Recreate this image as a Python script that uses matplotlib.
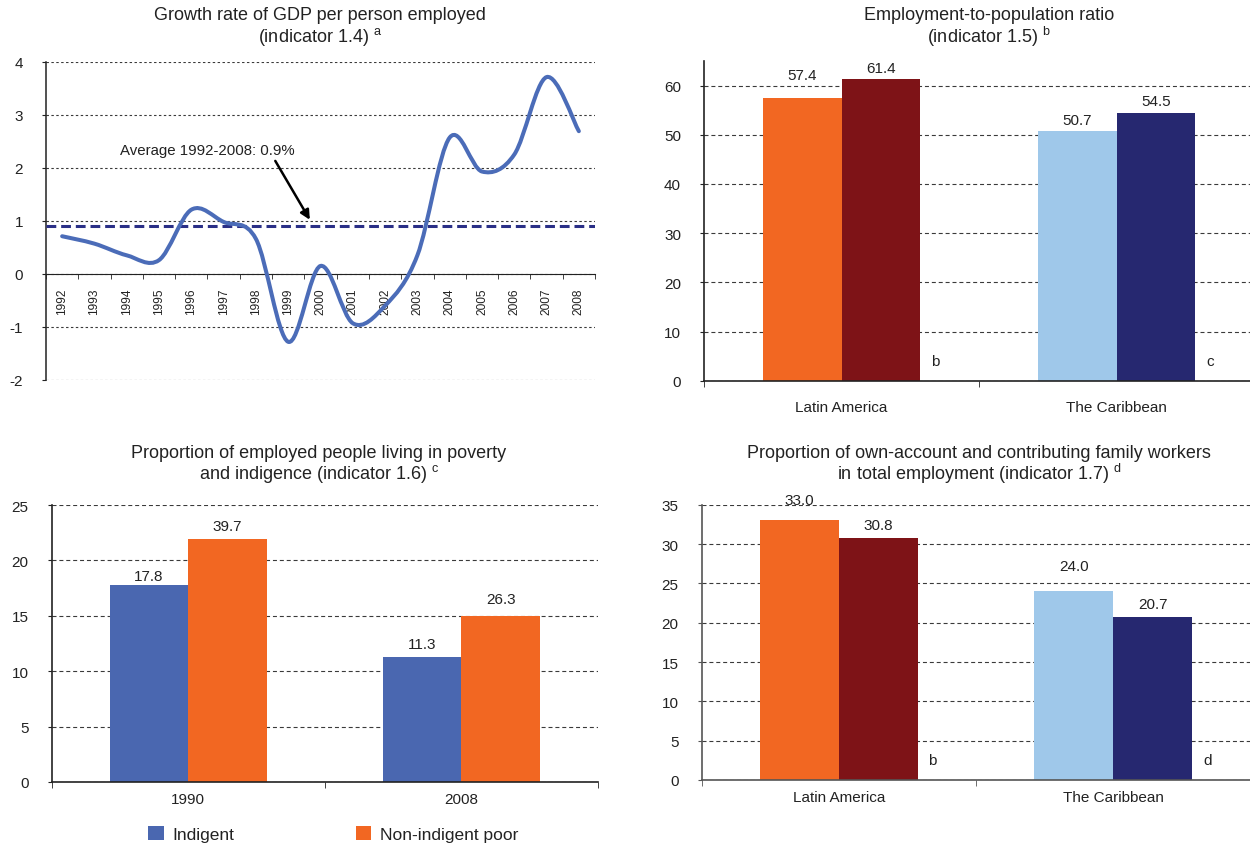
import numpy as np
import matplotlib
matplotlib.use("Agg")
import matplotlib.pyplot as plt
from matplotlib.path import Path
from matplotlib.patches import PathPatch

plt.rcParams['font.family'] = ['Liberation Sans', 'DejaVu Sans']
plt.rcParams['mathtext.fontset'] = 'custom'
plt.rcParams['mathtext.rm'] = 'Liberation Sans'
plt.rcParams['mathtext.it'] = 'Liberation Sans:italic'
plt.rcParams['mathtext.bf'] = 'Liberation Sans:bold'
plt.rcParams['axes.unicode_minus'] = False

# ---- data ----
years = [str(y) for y in range(1992, 2009)]
gdp_growth = [0.71, 0.57, 0.35, 0.26, 1.21, 0.98, 0.66, -1.28, 0.15,
              -0.93, -0.60, 0.35, 2.57, 1.93, 2.25, 3.71, 2.69]
gdp_average = 0.9

regions = ["Latin America", "The Caribbean"]
emp_pop_first = [57.4, 50.7]
emp_pop_second = [61.4, 54.5]
emp_pop_notes = ["b", "c"]

poverty_years = ["1990", "2008"]
indigent = [17.8, 11.3]
total_poor = [39.7, 26.3]

own_account_first = [33.0, 24.0]
own_account_second = [30.8, 20.7]
own_account_notes = ["b", "d"]

# ---- style ----
ORANGE = "#F26722"
DARK_RED = "#7E1317"
LIGHT_BLUE = "#9FC8EA"
NAVY = "#262870"
INDIGENT_BLUE = "#4A67B0"
LINE_BLUE = "#4B6CB8"
AVG_NAVY = "#2A2F86"
GRID = "#3a3a3a"
W, H = 1250, 845

fig = plt.figure(figsize=(W / 100, H / 100), dpi=100)


def axes_px(left, top, right, bottom):
    return fig.add_axes([left / W, 1 - bottom / H, (right - left) / W, (bottom - top) / H])


def panel_title(ax_center_px, y1_px, line1, line2, note):
    fig.text(ax_center_px / W, 1 - y1_px / H, line1, ha="center", va="center",
             fontsize=13, color="#222")
    fig.text(ax_center_px / W, 1 - (y1_px + 21) / H, line2 + r" $^{\rm " + note + "}$",
             ha="center", va="center", fontsize=13, color="#222")


def smooth_path(xs, ys):
    """Cubic Bezier path through the points, Catmull-Rom style tangents."""
    pts = np.column_stack([xs, ys]).astype(float)
    n = len(pts)
    verts = [pts[0]]
    codes = [Path.MOVETO]
    for i in range(n - 1):
        p0 = pts[max(i - 1, 0)]
        p1 = pts[i]
        p2 = pts[i + 1]
        p3 = pts[min(i + 2, n - 1)]
        c1 = p1 + (p2 - p0) / 6.0
        c2 = p2 - (p3 - p1) / 6.0
        verts += [c1, c2, p2]
        codes += [Path.CURVE4] * 3
    return Path(verts, codes)


# ---- top left: GDP per person employed ----
ax = axes_px(46, 62.7, 595, 381)
xs = np.arange(len(years))
ax.add_patch(PathPatch(smooth_path(xs, gdp_growth), fill=False, edgecolor=LINE_BLUE,
                       lw=2.9, capstyle="round", joinstyle="round", zorder=4))
ax.axhline(gdp_average, color=AVG_NAVY, lw=2.2, ls=(0, (3.2, 1.6)), zorder=3)
ax.set_xlim(-0.5, len(years) - 0.5)
ax.set_ylim(-2, 4)
ax.set_yticks(range(-2, 5))
ax.yaxis.grid(True, linestyle=(0, (2.2, 2.2)), color=GRID, linewidth=0.8)
ax.set_axisbelow(True)
for s in ("top", "right"):
    ax.spines[s].set_visible(False)
ax.spines["bottom"].set_position(("data", 0))
ax.spines["bottom"].set_color("#222")
ax.spines["bottom"].set_zorder(2.5)
ax.spines["left"].set_color("#222")
ax.spines["left"].set_linewidth(1.1)
ax.set_xticks(xs)
ax.set_xticklabels(years, rotation=90, fontsize=8.6, color="#222")
ax.set_xticks(np.arange(-0.5, len(years)), minor=True)
ax.tick_params(axis="x", which="major", length=0, pad=9.5)
ax.tick_params(axis="x", which="minor", length=3.5, direction="out", color="#222")
ax.tick_params(axis="y", length=3, pad=13.5, labelsize=11, color="#222", labelcolor="#222")
ax.annotate("", xy=(7.67, 1.02), xytext=(6.6, 2.13),
            arrowprops=dict(arrowstyle="-|>", color="black", lw=1.8, mutation_scale=14,
                            shrinkA=0, shrinkB=0), zorder=5)
ax.text(1.79, 2.34, f"Average {years[0]}-{years[-1]}: {gdp_average:.1f}%",
        ha="left", va="center", fontsize=10.8, color="#222")
panel_title(320, 16, "Growth rate of GDP per person employed", "(indicator 1.4)", "a")


def finish_bar_axes(ax, ncat, ymax, ytop_tick, ystep, xpad, spine_color):
    ax.set_xlim(-0.5, ncat - 0.5)
    ax.set_ylim(0, ymax)
    ax.set_yticks(np.arange(0, ytop_tick + 0.1, ystep))
    ax.yaxis.grid(True, linestyle=(0, (3.6, 2.6)), color=GRID, linewidth=0.8)
    ax.set_axisbelow(True)
    for s in ("top", "right"):
        ax.spines[s].set_visible(False)
    for s in ("left", "bottom"):
        ax.spines[s].set_color(spine_color)
        ax.spines[s].set_linewidth(1.2)
        ax.spines[s].set_zorder(4)
    ax.set_xticks(np.arange(-0.5, ncat), minor=True)
    ax.tick_params(axis="x", which="major", length=0, pad=xpad, labelsize=11, labelcolor="#222")
    ax.tick_params(axis="x", which="minor", length=4.5, direction="out", color=spine_color)
    ax.tick_params(axis="y", length=3, pad=13.5, labelsize=11, color=spine_color, labelcolor="#222")


def value_labels(ax, xs, vals, shown, offs):
    for xi, v, s, o in zip(xs, vals, shown, offs):
        ax.annotate(f"{s:.1f}", xy=(xi, v), xytext=(0, o), textcoords="offset points",
                    ha="center", va="center", fontsize=11, color="#222", zorder=6)


w = 0.287

# ---- top right: employment-to-population ratio ----
ax = axes_px(704, 62, 1254, 381.7)
x = np.arange(len(regions))
ax.bar(x - w / 2, emp_pop_first, w, color=[ORANGE, LIGHT_BLUE], zorder=3)
ax.bar(x + w / 2, emp_pop_second, w, color=[DARK_RED, NAVY], zorder=3)
value_labels(ax, x - w / 2, emp_pop_first, emp_pop_first, [17, 8])
value_labels(ax, x + w / 2, emp_pop_second, emp_pop_second, [8, 8.6])
for xi, note in zip(x, emp_pop_notes):
    ax.text(xi + w + 0.055, 4.0, note, ha="center", va="center", fontsize=11, color="#222")
ax.set_xticks(x)
ax.set_xticklabels(regions)
finish_bar_axes(ax, len(regions), 65, 60, 10, 14, "#222")
panel_title(989, 16, "Employment-to-population ratio", "(indicator 1.5)", "b")

# ---- bottom left: employed people in poverty and indigence ----
ax = axes_px(51.5, 506, 598, 783)
x = np.arange(len(poverty_years))
non_indigent = [t - i for t, i in zip(total_poor, indigent)]
b1 = ax.bar(x - w / 2, indigent, w, color=INDIGENT_BLUE, zorder=3, label="Indigent")
b2 = ax.bar(x + w / 2, non_indigent, w, color=ORANGE, zorder=3, label="Non-indigent poor")
value_labels(ax, x - w / 2, indigent, indigent, [6.5, 9.4])
value_labels(ax, x + w / 2, non_indigent, total_poor, [9.4, 12])
ax.set_xticks(x)
ax.set_xticklabels(poverty_years)
finish_bar_axes(ax, len(poverty_years), 25, 25, 5, 7.5, "#222")
panel_title(319, 453, "Proportion of employed people living in poverty",
            "and indigence (indicator 1.6)", "c")
fig.legend(handles=[b1, b2], loc="center left", bbox_to_anchor=(148 / W, 1 - 835 / H),
           ncol=2, frameon=False, fontsize=12.5, handlelength=0.9, handleheight=0.9,
           handletextpad=0.5, columnspacing=7.0, borderpad=0, borderaxespad=0,
           labelcolor="#222")

# ---- bottom right: own-account and contributing family workers ----
ax = axes_px(701.5, 505.7, 1250.5, 781)
x = np.arange(len(regions))
ax.bar(x - w / 2, own_account_first, w, color=[ORANGE, LIGHT_BLUE], zorder=3)
ax.bar(x + w / 2, own_account_second, w, color=[DARK_RED, NAVY], zorder=3)
value_labels(ax, x - w / 2, own_account_first, own_account_first, [15, 18])
value_labels(ax, x + w / 2, own_account_second, own_account_second, [9.4, 9.4])
for xi, note in zip(x, own_account_notes):
    ax.text(xi + w + 0.055, 2.55, note, ha="center", va="center", fontsize=11, color="#222")
ax.set_xticks(x)
ax.set_xticklabels(regions)
finish_bar_axes(ax, len(regions), 35, 35, 5, 7.5, "#555")
panel_title(979, 453, "Proportion of own-account and contributing family workers",
            "in total employment (indicator 1.7)", "d")

fig.savefig("out.png", dpi=100)
